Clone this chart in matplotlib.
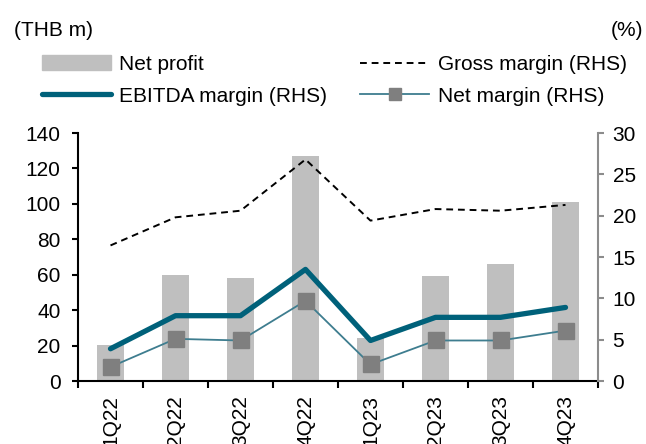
import numpy as np
import matplotlib
matplotlib.use("Agg")
import matplotlib.pyplot as plt
from matplotlib.patches import Patch
from matplotlib.lines import Line2D

plt.rcParams['font.family'] = ['Liberation Sans', 'DejaVu Sans']
plt.rcParams['font.size'] = 15

quarters = ['1Q22', '2Q22', '3Q22', '4Q22', '1Q23', '2Q23', '3Q23', '4Q23']
net_profit = [20.5, 60, 58, 127, 24, 59.5, 66, 101]
gross_margin = [16.4, 19.8, 20.6, 26.8, 19.4, 20.8, 20.6, 21.3]
ebitda_margin = [3.9, 7.9, 7.9, 13.5, 4.9, 7.7, 7.7, 8.9]
net_margin = [1.7, 5.1, 4.9, 9.7, 2.0, 4.9, 4.9, 6.1]

bar_col = '#bfbfbf'
ebitda_col = '#00617a'
nm_col = '#3e7d8f'

fig = plt.figure(figsize=(6.46, 4.44), dpi=100)
ax = fig.add_axes([78/646, 1-381/444, (598-78)/646, (381-133)/444])
ax2 = ax.twinx()

x = np.arange(len(quarters))
ax.bar(x, net_profit, width=0.41, color=bar_col, zorder=1)
ax2.plot(x, gross_margin, color='black', lw=1.4, ls=(0, (3.5, 2.5)))
ax2.plot(x, ebitda_margin, color=ebitda_col, lw=3.8, solid_capstyle='round')
ax2.plot(x, net_margin, color=nm_col, lw=1.3, marker='s', ms=11,
         mfc='#7f7f7f', mec='#7f7f7f')

ax.set_xlim(-0.5, len(quarters) - 0.5)
ax.set_ylim(0, 140)
ax.set_yticks(range(0, 141, 20))
ax2.set_ylim(0, 30)
ax2.set_yticks(range(0, 31, 5))

ax.set_xticks(x)
ax.set_xticklabels(quarters, rotation=90)
ax.tick_params(axis='x', length=0, pad=10)
ax.set_xticks(np.arange(-0.5, len(quarters), 1), minor=True)
ax.tick_params(axis='x', which='minor', length=5, width=1.5, color='black')
ax.tick_params(axis='y', length=4.5, width=1.5, pad=8)
ax2.tick_params(axis='y', length=4.5, width=1.5, color='#8c8c8c', pad=6)

for s in ['top', 'right']:
    ax.spines[s].set_visible(False)
ax.spines['left'].set_linewidth(1.5)
ax.spines['bottom'].set_linewidth(1.5)
for s in ['top', 'left', 'bottom']:
    ax2.spines[s].set_visible(False)
ax2.spines['right'].set_color('#8c8c8c')
ax2.spines['right'].set_linewidth(1.5)

fig.text(14/646, 1-31/444, '(THB m)', ha='left', va='center')
fig.text(643/646, 1-31/444, '(%)', ha='right', va='center')

handles = [
    Patch(color=bar_col, label='Net profit'),
    Line2D([], [], color=ebitda_col, lw=3.8, solid_capstyle='round', label='EBITDA margin (RHS)'),
    Line2D([], [], color='black', lw=1.4, ls=(0, (3.5, 2.5)), label='Gross margin (RHS)'),
    Line2D([], [], color=nm_col, lw=1.3, marker='s', ms=8, mfc='#7f7f7f', mec='#7f7f7f',
           label='Net margin (RHS)'),
]
fig.legend(handles=handles, ncol=2, loc='upper left', bbox_to_anchor=(42/646, 1-55/444),
           frameon=False, borderpad=0, borderaxespad=0, handlelength=3.3,
           handletextpad=0.4, labelspacing=0.6, columnspacing=1.6)

fig.savefig('out.png', dpi=100)
